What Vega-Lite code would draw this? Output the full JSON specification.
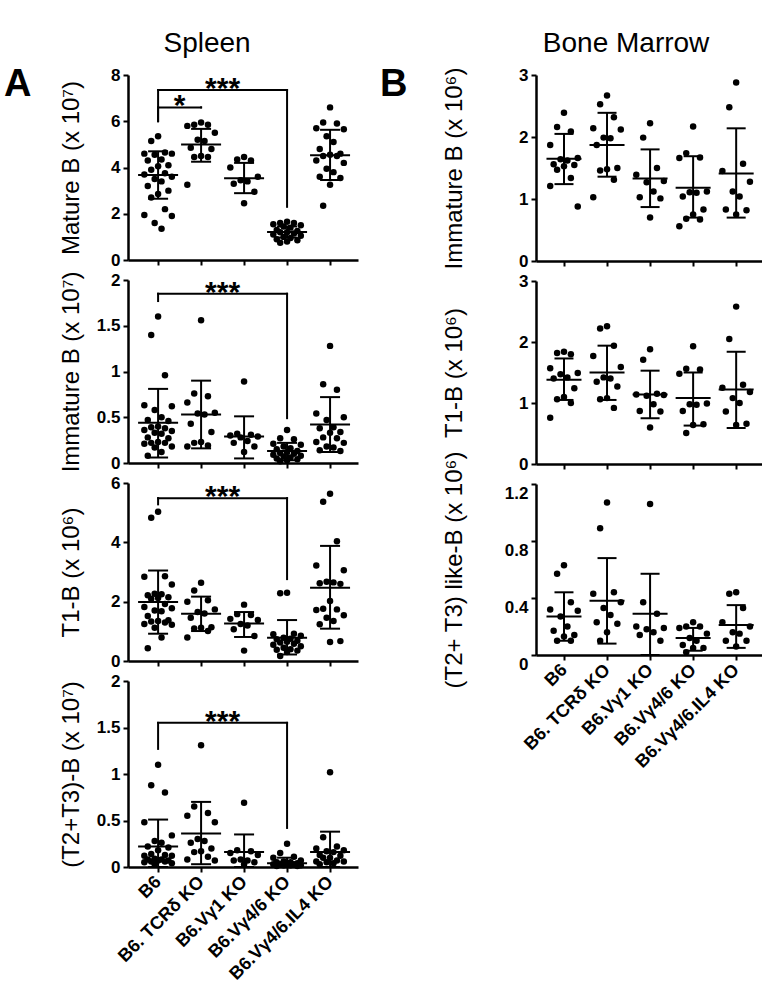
{
"$schema":"https://vega.github.io/schema/vega-lite/v6.json",
"padding":{"top":30,"left":4,"right":2,"bottom":2},
"config":{"view":{"stroke":null},"font":"Liberation Sans",
"axis":{"domainColor":"black","domainWidth":2.5,"tickColor":"black","tickWidth":2,"tickSize":5,"labelColor":"black","titleColor":"black","labelFontSize":17,"labelFontWeight":"bold","titleFontSize":24,"titleFontWeight":"normal","grid":false,"labelFont":"Liberation Sans","titleFont":"Liberation Sans","labelPadding":3}},
"data":{"values":[
{"p":"S1","g":"B6","vals":[5.35,5.15,4.65,4.6,4.6,4.55,4.35,4.3,4.1,4.05,3.9,3.75,3.7,3.6,3.5,3.4,3.2,3.0,2.85,2.7,2.2,1.95,1.9,1.6,1.35],"mean":3.68,"lo":2.65,"hi":4.7},
{"p":"S1","g":"B6. TCRδ KO","vals":[5.95,5.85,5.85,5.8,5.5,5.2,5.15,4.85,4.8,4.5,4.45,4.45,3.25],"mean":5.0,"lo":4.25,"hi":5.67},
{"p":"S1","g":"B6.Vγ1 KO","vals":[4.45,4.35,4.3,4.0,3.6,3.45,3.4,3.3,2.95,2.45],"mean":3.53,"lo":2.89,"hi":4.2},
{"p":"S1","g":"B6.Vγ4/6 KO","vals":[1.65,1.6,1.6,1.55,1.5,1.45,1.4,1.3,1.25,1.2,1.2,1.15,1.1,1.05,1.0,0.95,0.9,0.85,0.8,0.75],"mean":1.21,"lo":0.97,"hi":1.45},
{"p":"S1","g":"B6.Vγ4/6.IL4 KO","vals":[6.6,5.95,5.9,5.7,5.65,5.35,5.1,4.8,4.6,4.55,4.5,4.5,4.3,4.2,3.95,3.8,3.6,3.55,3.25,2.35],"mean":4.53,"lo":3.46,"hi":5.63},
{"p":"S1","g":"B6","g2":"B6.Vγ4/6 KO","top":7.35,"l":6.0,"r":2.3,"star":"***"},
{"p":"S1","g":"B6","g2":"B6. TCRδ KO","top":6.6,"l":6.0,"r":6.6,"star":"*"},
{"p":"S2","g":"B6","vals":[1.6,1.4,0.96,0.63,0.62,0.58,0.5,0.47,0.46,0.4,0.39,0.38,0.36,0.35,0.33,0.32,0.28,0.27,0.23,0.22,0.22,0.21,0.18,0.17,0.12,0.08],"mean":0.44,"lo":0.06,"hi":0.81},
{"p":"S2","g":"B6. TCRδ KO","vals":[1.56,0.76,0.73,0.66,0.55,0.54,0.53,0.43,0.34,0.23,0.22,0.19,0.18],"mean":0.53,"lo":0.16,"hi":0.9},
{"p":"S2","g":"B6.Vγ1 KO","vals":[0.89,0.32,0.31,0.3,0.29,0.28,0.24,0.22,0.18,0.12],"mean":0.29,"lo":0.05,"hi":0.51},
{"p":"S2","g":"B6.Vγ4/6 KO","vals":[0.36,0.27,0.26,0.21,0.2,0.18,0.16,0.15,0.13,0.12,0.11,0.1,0.09,0.08,0.07,0.06,0.05,0.04,0.03,0.02],"mean":0.13,"lo":0.03,"hi":0.22},
{"p":"S2","g":"B6.Vγ4/6.IL4 KO","vals":[1.28,0.86,0.8,0.54,0.5,0.47,0.39,0.38,0.34,0.33,0.28,0.27,0.23,0.22,0.18,0.17,0.14,0.13],"mean":0.42,"lo":0.12,"hi":0.72},
{"p":"S2","g":"B6","g2":"B6.Vγ4/6 KO","top":1.85,"l":1.77,"r":0.49,"star":"***"},
{"p":"S3","g":"B6","vals":[5.03,4.83,2.86,2.84,2.58,2.27,2.25,2.22,2.15,2.12,2.1,1.92,1.82,1.78,1.7,1.68,1.52,1.37,1.35,1.33,1.3,1.25,1.22,1.12,0.79,0.43],"mean":1.99,"lo":0.92,"hi":3.05},
{"p":"S3","g":"B6. TCRδ KO","vals":[2.64,2.38,2.05,2.0,1.74,1.65,1.6,1.46,1.14,1.12,1.1,1.01,0.79],"mean":1.59,"lo":1.01,"hi":2.17},
{"p":"S3","g":"B6.Vγ1 KO","vals":[1.9,1.58,1.55,1.42,1.38,1.25,1.2,1.07,0.84,0.35],"mean":1.26,"lo":0.81,"hi":1.65},
{"p":"S3","g":"B6.Vγ4/6 KO","vals":[2.3,2.28,0.92,0.9,0.85,0.78,0.75,0.73,0.68,0.65,0.62,0.58,0.55,0.5,0.45,0.4,0.38,0.35,0.3,0.17],"mean":0.78,"lo":0.22,"hi":1.38},
{"p":"S3","g":"B6.Vγ4/6.IL4 KO","vals":[5.64,5.37,4.04,3.22,3.06,2.67,2.65,2.62,2.6,2.02,1.76,1.74,1.72,1.54,1.46,1.35,1.24,0.67,0.64],"mean":2.47,"lo":1.09,"hi":3.88},
{"p":"S3","g":"B6","g2":"B6.Vγ4/6 KO","top":5.49,"l":5.28,"r":2.76,"star":"***"},
{"p":"S4","g":"B6","vals":[1.1,0.88,0.8,0.48,0.34,0.28,0.26,0.22,0.21,0.18,0.14,0.13,0.12,0.12,0.09,0.08,0.08,0.07,0.07,0.06,0.06,0.05,0.04,0.03],"mean":0.22,"lo":0,"hi":0.51},
{"p":"S4","g":"B6. TCRδ KO","vals":[1.31,0.65,0.58,0.55,0.48,0.3,0.28,0.26,0.2,0.17,0.16,0.11,0.08,0.07],"mean":0.36,"lo":0.03,"hi":0.7},
{"p":"S4","g":"B6.Vγ1 KO","vals":[0.69,0.18,0.17,0.15,0.13,0.08,0.07,0.07,0.05,0.03],"mean":0.16,"lo":0,"hi":0.35},
{"p":"S4","g":"B6.Vγ4/6 KO","vals":[0.25,0.15,0.11,0.1,0.07,0.06,0.05,0.05,0.04,0.04,0.03,0.03,0.03,0.02,0.02,0.02,0.01,0.01],"mean":0.04,"lo":0,"hi":0.1},
{"p":"S4","g":"B6.Vγ4/6.IL4 KO","vals":[1.02,0.32,0.22,0.2,0.18,0.17,0.16,0.13,0.12,0.1,0.1,0.07,0.06,0.06,0.05,0.04,0.03],"mean":0.16,"lo":0,"hi":0.38},
{"p":"S4","g":"B6","g2":"B6.Vγ4/6 KO","top":1.55,"l":1.27,"r":0.42,"star":"***"},
{"p":"B1","g":"B6","vals":[2.39,2.16,2.09,1.87,1.66,1.64,1.62,1.56,1.55,1.53,1.47,1.34,1.21,0.88],"mean":1.65,"lo":1.24,"hi":2.05},
{"p":"B1","g":"B6. TCRδ KO","vals":[2.67,2.53,2.32,2.14,2.12,1.99,1.98,1.87,1.5,1.48,1.46,1.31,1.03],"mean":1.87,"lo":1.36,"hi":2.39},
{"p":"B1","g":"B6.Vγ1 KO","vals":[2.22,1.99,1.5,1.39,1.29,1.27,1.12,1.03,1.01,0.7],"mean":1.33,"lo":0.87,"hi":1.8},
{"p":"B1","g":"B6.Vγ4/6 KO","vals":[2.17,1.74,1.67,1.66,1.12,1.11,1.1,1.04,0.83,0.75,0.68,0.67,0.56],"mean":1.18,"lo":0.7,"hi":1.69},
{"p":"B1","g":"B6.Vγ4/6.IL4 KO","vals":[2.88,2.48,1.57,1.45,1.28,1.12,1.04,0.83,0.82,0.75],"mean":1.41,"lo":0.7,"hi":2.14},
{"p":"B2","g":"B6","vals":[1.84,1.82,1.8,1.57,1.49,1.47,1.42,1.4,1.24,1.1,1.06,1.0,0.76],"mean":1.38,"lo":1.05,"hi":1.73},
{"p":"B2","g":"B6. TCRδ KO","vals":[2.26,2.22,1.94,1.77,1.59,1.42,1.4,1.35,1.27,1.08,1.06,0.92],"mean":1.5,"lo":1.05,"hi":1.94},
{"p":"B2","g":"B6.Vγ1 KO","vals":[1.88,1.71,1.15,1.14,1.13,1.12,0.98,0.87,0.86,0.6],"mean":1.14,"lo":0.75,"hi":1.53},
{"p":"B2","g":"B6.Vγ4/6 KO","vals":[1.93,1.56,1.55,1.48,0.99,0.98,0.97,0.87,0.65,0.64,0.51],"mean":1.08,"lo":0.63,"hi":1.5},
{"p":"B2","g":"B6.Vγ4/6.IL4 KO","vals":[2.58,2.05,1.3,1.25,1.18,1.08,1.0,0.86,0.66,0.64],"mean":1.22,"lo":0.59,"hi":1.84},
{"p":"B3","g":"B6","vals":[0.63,0.57,0.37,0.32,0.31,0.27,0.2,0.17,0.14,0.13,0.1,0.1],"mean":0.27,"lo":0.1,"hi":0.44},
{"p":"B3","g":"B6. TCRδ KO","vals":[1.07,0.89,0.44,0.43,0.37,0.33,0.28,0.23,0.22,0.16,0.1],"mean":0.38,"lo":0.08,"hi":0.68},
{"p":"B3","g":"B6.Vγ1 KO","vals":[1.06,0.37,0.29,0.2,0.19,0.18,0.16,0.14,0.1],"mean":0.29,"lo":0,"hi":0.57},
{"p":"B3","g":"B6.Vγ4/6 KO","vals":[0.23,0.2,0.2,0.19,0.15,0.12,0.1,0.07,0.05,0.05,0.02],"mean":0.12,"lo":0.03,"hi":0.19},
{"p":"B3","g":"B6.Vγ4/6.IL4 KO","vals":[0.44,0.43,0.33,0.23,0.2,0.16,0.15,0.1,0.1,0.06],"mean":0.21,"lo":0.05,"hi":0.35}
]},
"transform":[
{"calculate":"indexof(['B6','B6. TCRδ KO','B6.Vγ1 KO','B6.Vγ4/6 KO','B6.Vγ4/6.IL4 KO'], datum.g)","as":"i"},
{"calculate":"indexof(['B6','B6. TCRδ KO','B6.Vγ1 KO','B6.Vγ4/6 KO','B6.Vγ4/6.IL4 KO'], datum.g2)","as":"i2"}
],
"spacing":22,
"hconcat":[
{"title":{"text":"Spleen","fontSize":28,"fontWeight":"normal","anchor":"middle","offset":8,"dx":26},
"spacing":20,"bounds":"flush",
"vconcat":[
{"width":230,"height":185,
"title":{"text":"A","orient":"left","angle":0,"anchor":"end","align":"right","baseline":"top","fontSize":38,"fontWeight":"bold","offset":0},
"transform":[{"filter":"datum.p==='S1'"}],
"layer":[
{"transform":[{"filter":"isValid(datum.vals)"},{"flatten":["vals"],"as":["v"]},{"window":[{"op":"row_number","as":"rn"}],"groupby":["g"],"sort":[{"field":"v","order":"descending"}]},{"calculate":"datum.i+[0,-0.16,0.16,-0.32,0.32,-0.08,0.08,-0.24,0.24][(datum.rn-1)%9]","as":"xj"}],
"mark":{"type":"circle","size":42,"color":"black","opacity":1},
"encoding":{"x":{"field":"xj","type":"quantitative","scale":{"domain":[-0.7,4.65],"nice":false,"zero":false},"axis":{"values":[0,1,2,3,4],"labels":false,"title":null}},
"y":{"field":"v","type":"quantitative","scale":{"domain":[0,8],"nice":false},"axis":{"values":[0,2,4,6,8],"format":"~g","title":"Mature B (x 10⁷)","titleX":-45}}}},
{"transform":[{"filter":"isValid(datum.mean)"}],"layer":[
{"mark":{"type":"rule","color":"black","strokeWidth":2},"encoding":{"x":{"field":"i","type":"quantitative"},"y":{"field":"lo","type":"quantitative"},"y2":{"field":"hi"}}},
{"mark":{"type":"tick","orient":"horizontal","size":40,"thickness":2,"color":"black","opacity":1},"encoding":{"x":{"field":"i","type":"quantitative"},"y":{"field":"mean","type":"quantitative"}}},
{"transform":[{"fold":["lo","hi"],"as":["k","cap"]}],"mark":{"type":"tick","orient":"horizontal","size":20,"thickness":2,"color":"black","opacity":1},"encoding":{"x":{"field":"i","type":"quantitative"},"y":{"field":"cap","type":"quantitative"}}}]},
{"transform":[{"filter":"isValid(datum.star)"},{"calculate":"(datum.i+datum.i2)/2","as":"mid"}],"layer":[
{"mark":{"type":"rule","color":"black","strokeWidth":2,"strokeCap":"square"},"encoding":{"x":{"field":"i","type":"quantitative"},"x2":{"field":"i2"},"y":{"field":"top","type":"quantitative"}}},
{"mark":{"type":"rule","color":"black","strokeWidth":2,"strokeCap":"square"},"encoding":{"x":{"field":"i","type":"quantitative"},"y":{"field":"top","type":"quantitative"},"y2":{"field":"l"}}},
{"mark":{"type":"rule","color":"black","strokeWidth":2,"strokeCap":"square"},"encoding":{"x":{"field":"i2","type":"quantitative"},"y":{"field":"top","type":"quantitative"},"y2":{"field":"r"}}},
{"mark":{"type":"text","fontSize":30,"fontWeight":"bold","baseline":"alphabetic","dy":8,"color":"black"},"encoding":{"x":{"field":"mid","type":"quantitative"},"y":{"field":"top","type":"quantitative"},"text":{"field":"star"}}}]}
]},
{"width":230,"height":183,
"transform":[{"filter":"datum.p==='S2'"}],
"layer":[
{"transform":[{"filter":"isValid(datum.vals)"},{"flatten":["vals"],"as":["v"]},{"window":[{"op":"row_number","as":"rn"}],"groupby":["g"],"sort":[{"field":"v","order":"descending"}]},{"calculate":"datum.i+[0,-0.16,0.16,-0.32,0.32,-0.08,0.08,-0.24,0.24][(datum.rn-1)%9]","as":"xj"}],
"mark":{"type":"circle","size":42,"color":"black","opacity":1},
"encoding":{"x":{"field":"xj","type":"quantitative","scale":{"domain":[-0.7,4.65],"nice":false,"zero":false},"axis":{"values":[0,1,2,3,4],"labels":false,"title":null}},
"y":{"field":"v","type":"quantitative","scale":{"domain":[0,2],"nice":false},"axis":{"values":[0,0.5,1,1.5,2],"format":"~g","title":"Immature B (x 10⁷)","titleX":-45}}}},
{"transform":[{"filter":"isValid(datum.mean)"}],"layer":[
{"mark":{"type":"rule","color":"black","strokeWidth":2},"encoding":{"x":{"field":"i","type":"quantitative"},"y":{"field":"lo","type":"quantitative"},"y2":{"field":"hi"}}},
{"mark":{"type":"tick","orient":"horizontal","size":40,"thickness":2,"color":"black","opacity":1},"encoding":{"x":{"field":"i","type":"quantitative"},"y":{"field":"mean","type":"quantitative"}}},
{"transform":[{"fold":["lo","hi"],"as":["k","cap"]}],"mark":{"type":"tick","orient":"horizontal","size":20,"thickness":2,"color":"black","opacity":1},"encoding":{"x":{"field":"i","type":"quantitative"},"y":{"field":"cap","type":"quantitative"}}}]},
{"transform":[{"filter":"isValid(datum.star)"},{"calculate":"(datum.i+datum.i2)/2","as":"mid"}],"layer":[
{"mark":{"type":"rule","color":"black","strokeWidth":2,"strokeCap":"square"},"encoding":{"x":{"field":"i","type":"quantitative"},"x2":{"field":"i2"},"y":{"field":"top","type":"quantitative"}}},
{"mark":{"type":"rule","color":"black","strokeWidth":2,"strokeCap":"square"},"encoding":{"x":{"field":"i","type":"quantitative"},"y":{"field":"top","type":"quantitative"},"y2":{"field":"l"}}},
{"mark":{"type":"rule","color":"black","strokeWidth":2,"strokeCap":"square"},"encoding":{"x":{"field":"i2","type":"quantitative"},"y":{"field":"top","type":"quantitative"},"y2":{"field":"r"}}},
{"mark":{"type":"text","fontSize":30,"fontWeight":"bold","baseline":"alphabetic","dy":8,"color":"black"},"encoding":{"x":{"field":"mid","type":"quantitative"},"y":{"field":"top","type":"quantitative"},"text":{"field":"star"}}}]}
]},
{"width":230,"height":178,
"transform":[{"filter":"datum.p==='S3'"}],
"layer":[
{"transform":[{"filter":"isValid(datum.vals)"},{"flatten":["vals"],"as":["v"]},{"window":[{"op":"row_number","as":"rn"}],"groupby":["g"],"sort":[{"field":"v","order":"descending"}]},{"calculate":"datum.i+[0,-0.16,0.16,-0.32,0.32,-0.08,0.08,-0.24,0.24][(datum.rn-1)%9]","as":"xj"}],
"mark":{"type":"circle","size":42,"color":"black","opacity":1},
"encoding":{"x":{"field":"xj","type":"quantitative","scale":{"domain":[-0.7,4.65],"nice":false,"zero":false},"axis":{"values":[0,1,2,3,4],"labels":false,"title":null}},
"y":{"field":"v","type":"quantitative","scale":{"domain":[0,6],"nice":false},"axis":{"values":[0,2,4,6],"format":"~g","title":"T1-B (x 10⁶)","titleX":-45}}}},
{"transform":[{"filter":"isValid(datum.mean)"}],"layer":[
{"mark":{"type":"rule","color":"black","strokeWidth":2},"encoding":{"x":{"field":"i","type":"quantitative"},"y":{"field":"lo","type":"quantitative"},"y2":{"field":"hi"}}},
{"mark":{"type":"tick","orient":"horizontal","size":40,"thickness":2,"color":"black","opacity":1},"encoding":{"x":{"field":"i","type":"quantitative"},"y":{"field":"mean","type":"quantitative"}}},
{"transform":[{"fold":["lo","hi"],"as":["k","cap"]}],"mark":{"type":"tick","orient":"horizontal","size":20,"thickness":2,"color":"black","opacity":1},"encoding":{"x":{"field":"i","type":"quantitative"},"y":{"field":"cap","type":"quantitative"}}}]},
{"transform":[{"filter":"isValid(datum.star)"},{"calculate":"(datum.i+datum.i2)/2","as":"mid"}],"layer":[
{"mark":{"type":"rule","color":"black","strokeWidth":2,"strokeCap":"square"},"encoding":{"x":{"field":"i","type":"quantitative"},"x2":{"field":"i2"},"y":{"field":"top","type":"quantitative"}}},
{"mark":{"type":"rule","color":"black","strokeWidth":2,"strokeCap":"square"},"encoding":{"x":{"field":"i","type":"quantitative"},"y":{"field":"top","type":"quantitative"},"y2":{"field":"l"}}},
{"mark":{"type":"rule","color":"black","strokeWidth":2,"strokeCap":"square"},"encoding":{"x":{"field":"i2","type":"quantitative"},"y":{"field":"top","type":"quantitative"},"y2":{"field":"r"}}},
{"mark":{"type":"text","fontSize":30,"fontWeight":"bold","baseline":"alphabetic","dy":8,"color":"black"},"encoding":{"x":{"field":"mid","type":"quantitative"},"y":{"field":"top","type":"quantitative"},"text":{"field":"star"}}}]}
]},
{"width":230,"height":186,
"transform":[{"filter":"datum.p==='S4'"}],
"layer":[
{"transform":[{"filter":"isValid(datum.vals)"},{"flatten":["vals"],"as":["v"]},{"window":[{"op":"row_number","as":"rn"}],"groupby":["g"],"sort":[{"field":"v","order":"descending"}]},{"calculate":"datum.i+[0,-0.16,0.16,-0.32,0.32,-0.08,0.08,-0.24,0.24][(datum.rn-1)%9]","as":"xj"}],
"mark":{"type":"circle","size":42,"color":"black","opacity":1},
"encoding":{"x":{"field":"xj","type":"quantitative","scale":{"domain":[-0.7,4.65],"nice":false,"zero":false},"axis":{"values":[0,1,2,3,4],"title":null,"labelExpr":"['B6','B6. TCRδ KO','B6.Vγ1 KO','B6.Vγ4/6 KO','B6.Vγ4/6.IL4 KO'][datum.value]","labelAngle":-45,"labelAlign":"right","labelBaseline":"middle","labelFontSize":18,"labelOverlap":false,"labelPadding":7}},
"y":{"field":"v","type":"quantitative","scale":{"domain":[0,2],"nice":false},"axis":{"values":[0,0.5,1,1.5,2],"format":"~g","title":"(T2+T3)-B (x 10⁷)","titleX":-45}}}},
{"transform":[{"filter":"isValid(datum.mean)"}],"layer":[
{"mark":{"type":"rule","color":"black","strokeWidth":2},"encoding":{"x":{"field":"i","type":"quantitative"},"y":{"field":"lo","type":"quantitative"},"y2":{"field":"hi"}}},
{"mark":{"type":"tick","orient":"horizontal","size":40,"thickness":2,"color":"black","opacity":1},"encoding":{"x":{"field":"i","type":"quantitative"},"y":{"field":"mean","type":"quantitative"}}},
{"transform":[{"fold":["lo","hi"],"as":["k","cap"]}],"mark":{"type":"tick","orient":"horizontal","size":20,"thickness":2,"color":"black","opacity":1},"encoding":{"x":{"field":"i","type":"quantitative"},"y":{"field":"cap","type":"quantitative"}}}]},
{"transform":[{"filter":"isValid(datum.star)"},{"calculate":"(datum.i+datum.i2)/2","as":"mid"}],"layer":[
{"mark":{"type":"rule","color":"black","strokeWidth":2,"strokeCap":"square"},"encoding":{"x":{"field":"i","type":"quantitative"},"x2":{"field":"i2"},"y":{"field":"top","type":"quantitative"}}},
{"mark":{"type":"rule","color":"black","strokeWidth":2,"strokeCap":"square"},"encoding":{"x":{"field":"i","type":"quantitative"},"y":{"field":"top","type":"quantitative"},"y2":{"field":"l"}}},
{"mark":{"type":"rule","color":"black","strokeWidth":2,"strokeCap":"square"},"encoding":{"x":{"field":"i2","type":"quantitative"},"y":{"field":"top","type":"quantitative"},"y2":{"field":"r"}}},
{"mark":{"type":"text","fontSize":30,"fontWeight":"bold","baseline":"alphabetic","dy":8,"color":"black"},"encoding":{"x":{"field":"mid","type":"quantitative"},"y":{"field":"top","type":"quantitative"},"text":{"field":"star"}}}]}
]}
]},
{"title":{"text":"Bone Marrow","fontSize":28,"fontWeight":"normal","anchor":"middle","offset":8,"dx":55},
"spacing":20,"bounds":"flush",
"vconcat":[
{"width":226,"height":186,
"title":{"text":"B","orient":"left","angle":0,"anchor":"end","align":"right","baseline":"top","fontSize":38,"fontWeight":"bold","offset":7},
"transform":[{"filter":"datum.p==='B1'"}],
"layer":[
{"transform":[{"filter":"isValid(datum.vals)"},{"flatten":["vals"],"as":["v"]},{"window":[{"op":"row_number","as":"rn"}],"groupby":["g"],"sort":[{"field":"v","order":"descending"}]},{"calculate":"datum.i+[0,-0.16,0.16,-0.32,0.32,-0.08,0.08,-0.24,0.24][(datum.rn-1)%9]","as":"xj"}],
"mark":{"type":"circle","size":42,"color":"black","opacity":1},
"encoding":{"x":{"field":"xj","type":"quantitative","scale":{"domain":[-0.65,4.6],"nice":false,"zero":false},"axis":{"values":[0,1,2,3,4],"labels":false,"title":null}},
"y":{"field":"v","type":"quantitative","scale":{"domain":[0,3],"nice":false},"axis":{"values":[0,1,2,3],"format":"~g","title":"Immature B (x 10⁶)","titleX":-70}}}},
{"transform":[{"filter":"isValid(datum.mean)"}],"layer":[
{"mark":{"type":"rule","color":"black","strokeWidth":2},"encoding":{"x":{"field":"i","type":"quantitative"},"y":{"field":"lo","type":"quantitative"},"y2":{"field":"hi"}}},
{"mark":{"type":"tick","orient":"horizontal","size":35,"thickness":2,"color":"black","opacity":1},"encoding":{"x":{"field":"i","type":"quantitative"},"y":{"field":"mean","type":"quantitative"}}},
{"transform":[{"fold":["lo","hi"],"as":["k","cap"]}],"mark":{"type":"tick","orient":"horizontal","size":19,"thickness":2,"color":"black","opacity":1},"encoding":{"x":{"field":"i","type":"quantitative"},"y":{"field":"cap","type":"quantitative"}}}]}
]},
{"width":226,"height":183,
"transform":[{"filter":"datum.p==='B2'"}],
"layer":[
{"transform":[{"filter":"isValid(datum.vals)"},{"flatten":["vals"],"as":["v"]},{"window":[{"op":"row_number","as":"rn"}],"groupby":["g"],"sort":[{"field":"v","order":"descending"}]},{"calculate":"datum.i+[0,-0.16,0.16,-0.32,0.32,-0.08,0.08,-0.24,0.24][(datum.rn-1)%9]","as":"xj"}],
"mark":{"type":"circle","size":42,"color":"black","opacity":1},
"encoding":{"x":{"field":"xj","type":"quantitative","scale":{"domain":[-0.65,4.6],"nice":false,"zero":false},"axis":{"values":[0,1,2,3,4],"labels":false,"title":null}},
"y":{"field":"v","type":"quantitative","scale":{"domain":[0,3],"nice":false},"axis":{"values":[0,1,2,3],"format":"~g","title":"T1-B (x 10⁶)","titleX":-70}}}},
{"transform":[{"filter":"isValid(datum.mean)"}],"layer":[
{"mark":{"type":"rule","color":"black","strokeWidth":2},"encoding":{"x":{"field":"i","type":"quantitative"},"y":{"field":"lo","type":"quantitative"},"y2":{"field":"hi"}}},
{"mark":{"type":"tick","orient":"horizontal","size":35,"thickness":2,"color":"black","opacity":1},"encoding":{"x":{"field":"i","type":"quantitative"},"y":{"field":"mean","type":"quantitative"}}},
{"transform":[{"fold":["lo","hi"],"as":["k","cap"]}],"mark":{"type":"tick","orient":"horizontal","size":19,"thickness":2,"color":"black","opacity":1},"encoding":{"x":{"field":"i","type":"quantitative"},"y":{"field":"cap","type":"quantitative"}}}]}
]},
{"width":226,"height":171,
"transform":[{"filter":"datum.p==='B3'"}],
"layer":[
{"transform":[{"filter":"isValid(datum.vals)"},{"flatten":["vals"],"as":["v"]},{"window":[{"op":"row_number","as":"rn"}],"groupby":["g"],"sort":[{"field":"v","order":"descending"}]},{"calculate":"datum.i+[0,-0.16,0.16,-0.32,0.32,-0.08,0.08,-0.24,0.24][(datum.rn-1)%9]","as":"xj"}],
"mark":{"type":"circle","size":42,"color":"black","opacity":1},
"encoding":{"x":{"field":"xj","type":"quantitative","scale":{"domain":[-0.65,4.6],"nice":false,"zero":false},"axis":{"values":[0,1,2,3,4],"title":null,"labelExpr":"['B6','B6. TCRδ KO','B6.Vγ1 KO','B6.Vγ4/6 KO','B6.Vγ4/6.IL4 KO'][datum.value]","labelAngle":-45,"labelAlign":"right","labelBaseline":"middle","labelFontSize":18,"labelOverlap":false,"labelPadding":7}},
"y":{"field":"v","type":"quantitative","scale":{"domain":[0,1.2],"nice":false},"axis":{"values":[0,0.4,0.8,1.2],"format":"~g","labelOffset":9,"title":"(T2+ T3) like-B (x 10⁶)","titleX":-70}}}},
{"transform":[{"filter":"isValid(datum.mean)"}],"layer":[
{"mark":{"type":"rule","color":"black","strokeWidth":2},"encoding":{"x":{"field":"i","type":"quantitative"},"y":{"field":"lo","type":"quantitative"},"y2":{"field":"hi"}}},
{"mark":{"type":"tick","orient":"horizontal","size":35,"thickness":2,"color":"black","opacity":1},"encoding":{"x":{"field":"i","type":"quantitative"},"y":{"field":"mean","type":"quantitative"}}},
{"transform":[{"fold":["lo","hi"],"as":["k","cap"]}],"mark":{"type":"tick","orient":"horizontal","size":19,"thickness":2,"color":"black","opacity":1},"encoding":{"x":{"field":"i","type":"quantitative"},"y":{"field":"cap","type":"quantitative"}}}]}
]}
]}
]
}
